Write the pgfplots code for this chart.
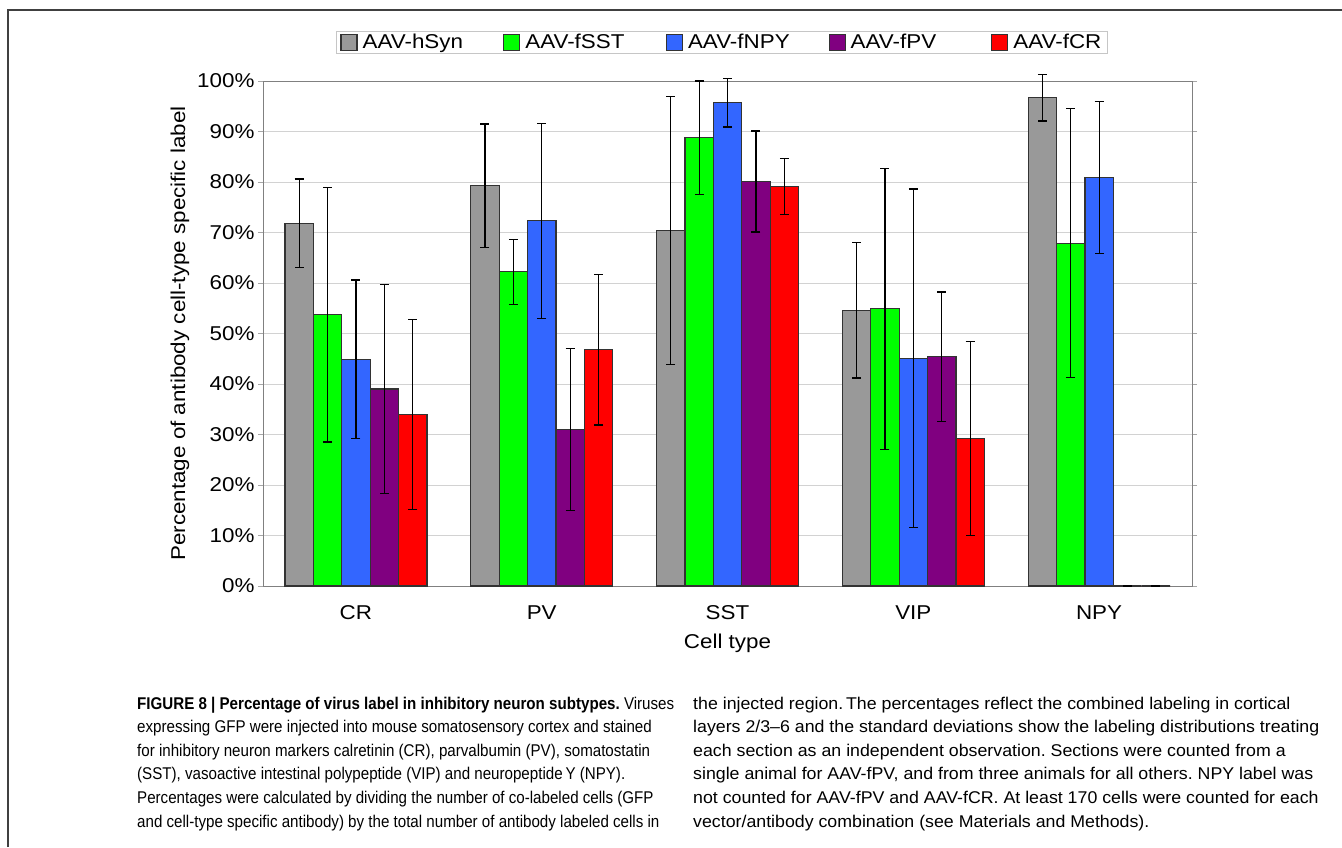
\documentclass[border=0pt]{standalone}
\usepackage{fontspec}
\setmainfont{Liberation Sans}
\newfontfamily\chartfont[FakeStretch=1.12]{Liberation Sans}
\newfontfamily\capfont[FakeStretch=0.89]{Liberation Sans}
\newfontfamily\capfontb[FakeStretch=1.045]{Liberation Sans}
\usepackage{pgfplots}
\pgfplotsset{compat=1.18}
\usepackage{pgfplotstable}
\definecolor{cgray}{HTML}{999999}
\definecolor{cgreen}{HTML}{00FF00}
\definecolor{cblue}{HTML}{3366FF}
\definecolor{cpurple}{HTML}{800080}
\definecolor{cred}{HTML}{FF0000}
\pgfplotstableread{
x y e
0 71.8 8.8
1 79.3 12.2
2 70.4 26.5
3 54.6 13.4
4 96.7 4.6
}\hsyn
\pgfplotstableread{
x y e
0 53.7 25.2
1 62.2 6.4
2 88.8 11.2
3 54.9 27.8
4 67.9 26.6
}\fsst
\pgfplotstableread{
x y e
0 44.9 15.7
1 72.3 19.3
2 95.7 4.8
3 45.1 33.5
4 80.9 15.0
}\fnpy
\pgfplotstableread{
x y e
0 39.0 20.7
1 31.0 16.0
2 80.1 10.0
3 45.4 12.8
4 0 0
}\fpv
\pgfplotstableread{
x y e
0 34.0 18.8
1 46.8 14.9
2 79.1 5.6
3 29.2 19.2
4 0 0
}\fcr
\frenchspacing
\begin{document}
\begin{tikzpicture}
\useasboundingbox (0pt,0pt) rectangle (1342pt,-847pt);
\draw[black!75, line width=1.5pt] (8pt,-847pt) -- (8pt,-10pt) -- (1342pt,-10pt);
\begin{axis}[
  at={(263pt,-586pt)}, anchor=south west,
  scale only axis, width=929pt, height=505pt,
  clip=false,
  ybar=0pt, bar width=28.4pt,
  xmin=-0.5, xmax=4.5, ymin=0, ymax=100,
  xtick={0,1,2,3,4}, xticklabels={CR,PV,SST,VIP,NPY},
  x tick style={draw=none},
  extra x ticks={-0.5,0.5,1.5,2.5,3.5,4.5},
  extra x tick labels={},
  extra x tick style={tick style={draw=gray!70, line width=1pt}, major tick length=6pt, tick align=outside, grid=none},
  ytick={0,10,...,100},
  yticklabels={0\%,10\%,20\%,30\%,40\%,50\%,60\%,70\%,80\%,90\%,100\%},
  y tick style={draw=gray!70, line width=1pt},
  tick align=outside, major tick length=5pt,
  ymajorgrids, grid style={gray!35, line width=1pt},
  axis line style={gray, line width=1pt},
  tick label style={font=\chartfont\fontsize{20}{24}\selectfont, text=black},
  xticklabel style={yshift=-11pt},
  ylabel={Percentage of antibody cell-type specific label},
  xlabel={Cell type},
  every axis y label/.style={at={(axis description cs:-0.0893,0.5)}, rotate=90, anchor=center, font=\chartfont\fontsize{20}{24}\selectfont},
  every axis x label/.style={at={(axis description cs:0.5,-0.113)}, anchor=center, font=\chartfont\fontsize{20}{24}\selectfont},
  legend columns=-1,
  legend style={at={(axis description cs:0.494,1.077)}, anchor=center,
    draw=gray!45, line width=1pt, font=\chartfont\fontsize{20}{24}\selectfont,
    inner xsep=4pt, inner ysep=1pt,
    /tikz/every odd column/.append style={column sep=3pt},
    /tikz/every even column/.append style={column sep=0pt}},
  legend image code/.code={\draw[#1, draw=black!80, line width=1.2pt] (0pt,-8pt) rectangle (16pt,8pt);},
  every axis plot/.append style={draw=black!80, line width=1.2pt,
    error bars/y dir=both, error bars/y explicit,
    error bars/error bar style={black, line width=1.2pt},
    error bars/error mark options={rotate=90, mark size=4.5pt, black, line width=1.2pt}},
]
\addplot[fill=cgray] table[x=x, y=y, y error=e] {\hsyn};
\addplot[fill=cgreen] table[x=x, y=y, y error=e] {\fsst};
\addplot[fill=cblue] table[x=x, y=y, y error=e] {\fnpy};
\addplot[fill=cpurple] table[x=x, y=y, y error=e] {\fpv};
\addplot[fill=cred] table[x=x, y=y, y error=e] {\fcr};
\addlegendentry{\makebox[138.5pt][l]{AAV-hSyn}}
\addlegendentry{\makebox[138.5pt][l]{AAV-fSST}}
\addlegendentry{\makebox[138.5pt][l]{AAV-fNPY}}
\addlegendentry{\makebox[138.5pt][l]{AAV-fPV}}
\addlegendentry{AAV-fCR}
\end{axis}
\begin{scope}[every node/.style={anchor=base west, inner sep=0pt, font=\capfont\fontsize{17}{20}\selectfont}]
\node at (137pt,-709pt) {\textbf{FIGURE 8 | Percentage of virus label in inhibitory neuron subtypes.} Viruses};
\node at (137pt,-732.6pt) {expressing GFP were injected into mouse somatosensory cortex and stained};
\node at (137pt,-756.2pt) {for inhibitory neuron markers calretinin (CR), parvalbumin (PV), somatostatin};
\node at (137pt,-779.8pt) {(SST), vasoactive intestinal polypeptide (VIP) and neuropeptide\,Y (NPY).};
\node at (137pt,-803.4pt) {Percentages were calculated by dividing the number of co-labeled cells (GFP};
\node at (137pt,-827pt) {and cell-type specific antibody) by the total number of antibody labeled cells in};
\end{scope}
\begin{scope}[every node/.style={anchor=base west, inner sep=0pt, font=\capfontb\fontsize{17}{20}\selectfont}]
\node at (693pt,-709pt) {the injected region.\,The percentages reflect the combined labeling in cortical};
\node at (693pt,-732.6pt) {layers 2/3–6 and the standard deviations show the labeling distributions treating};
\node at (693pt,-756.2pt) {each section as an independent observation. Sections were counted from a};
\node at (693pt,-779.8pt) {single animal for AAV-fPV, and from three animals for all others. NPY label was};
\node at (693pt,-803.4pt) {not counted for AAV-fPV and AAV-fCR. At least 170 cells were counted for each};
\node at (693pt,-827pt) {vector/antibody combination (see Materials and Methods).};
\end{scope}
\end{tikzpicture}
\end{document}
